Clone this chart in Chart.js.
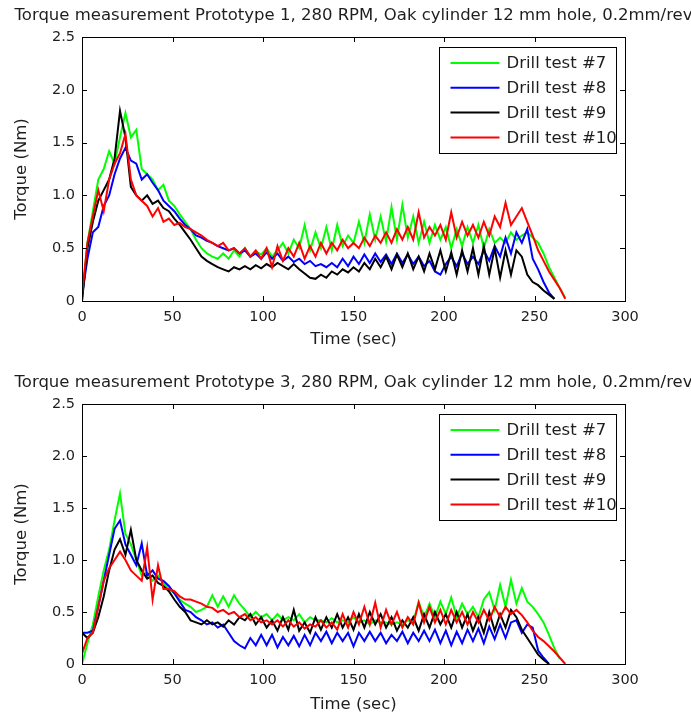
<!DOCTYPE html>
<html><head><meta charset="utf-8">
<script src="https://cdn.jsdelivr.net/npm/chart.js@4/dist/chart.umd.min.js"></script>
<style>
html,body{margin:0;padding:0;background:#fff;overflow:hidden;width:691px;height:715px;}
canvas{position:absolute;left:0;}
#c1{top:0}
#c2{top:367px}
</style></head><body>
<canvas id="c1" width="707" height="360"></canvas>
<canvas id="c2" width="707" height="348"></canvas>
<script>
// time axis (sec)
const time = [0,3,6,9,12,15,18,21,24,27,30,33,36,39,42,45,48,51,54,57,60,63,66,69,72,75,78,81,84,87,
90,93,96,99,102,105,108,111,114,117,120,123,126,129,132,135,138,141,144,147,150,153,156,159,162,165,168,171,174,177,
180,183,186,189,192,195,198,201,204,207,210,213,216,219,222,225,228,231,234,237,240,243,246,249,252,255,258,261,264,267,270];

const seriesNames = ['Drill test #7','Drill test #8','Drill test #9','Drill test #10'];
const seriesColors = ['#00ff00','#0000ff','#000000','#ff0000'];
const chartTitles = ['Torque measurement Prototype 1, 280 RPM, Oak cylinder 12 mm hole, 0.2mm/rev',
                     'Torque measurement Prototype 3, 280 RPM, Oak cylinder 12 mm hole, 0.2mm/rev'];
const xLabel = 'Time (sec)';
const yLabel = 'Torque (Nm)';

// Prototype 1
const p1Test7 = [
0.00,0.55,0.85,1.15,1.25,1.42,1.30,1.55,1.78,1.55,
1.62,1.25,1.20,1.15,1.05,1.10,0.95,0.90,0.82,0.75,
0.68,0.58,0.50,0.45,0.42,0.40,0.45,0.40,0.48,0.42,
0.50,0.42,0.47,0.44,0.50,0.42,0.48,0.55,0.45,0.58,
0.50,0.72,0.48,0.65,0.50,0.70,0.48,0.72,0.52,0.62,
0.55,0.75,0.55,0.82,0.58,0.80,0.56,0.89,0.58,0.91,
0.60,0.80,0.55,0.75,0.55,0.72,0.58,0.70,0.50,0.68,
0.52,0.70,0.55,0.72,0.50,0.68,0.55,0.60,0.55,0.65,
0.58,0.62,0.65,0.60,0.55,0.45,0.32,0.22,0.12,0.03,
null];
const p1Test8 = [
0.05,0.40,0.65,0.70,0.90,1.00,1.20,1.35,1.45,1.33,
1.30,1.15,1.20,1.12,1.05,0.95,0.90,0.85,0.78,0.72,
0.68,0.62,0.60,0.57,0.55,0.52,0.50,0.48,0.50,0.45,
0.48,0.42,0.45,0.40,0.46,0.40,0.45,0.38,0.42,0.37,
0.40,0.35,0.38,0.33,0.35,0.32,0.36,0.32,0.40,0.33,
0.42,0.35,0.44,0.36,0.45,0.37,0.44,0.35,0.45,0.36,
0.44,0.35,0.42,0.33,0.38,0.28,0.25,0.35,0.42,0.33,
0.45,0.35,0.42,0.35,0.48,0.38,0.52,0.42,0.60,0.45,
0.65,0.55,0.68,0.40,0.30,0.18,0.08,0.02,null,null,
null];
const p1Test9 = [
0.00,0.50,0.75,0.95,1.05,1.15,1.35,1.80,1.55,1.08,
1.00,0.95,1.00,0.92,0.95,0.88,0.85,0.78,0.72,0.65,
0.58,0.50,0.42,0.38,0.35,0.32,0.30,0.28,0.32,0.30,
0.33,0.30,0.34,0.31,0.35,0.32,0.36,0.33,0.30,0.35,
0.30,0.26,0.22,0.21,0.25,0.22,0.28,0.25,0.30,0.27,
0.32,0.28,0.36,0.30,0.40,0.32,0.42,0.30,0.44,0.32,
0.45,0.30,0.42,0.28,0.45,0.30,0.48,0.28,0.46,0.25,
0.48,0.28,0.50,0.25,0.52,0.25,0.50,0.22,0.48,0.25,
0.48,0.42,0.25,0.18,0.15,0.10,0.06,0.02,null,null,
null];
const p1Test10 = [
0.05,0.55,0.80,1.05,0.85,1.15,1.30,1.40,1.58,1.15,
1.00,0.95,0.90,0.80,0.88,0.75,0.78,0.72,0.74,0.70,
0.68,0.65,0.62,0.58,0.55,0.52,0.55,0.48,0.50,0.45,
0.50,0.42,0.48,0.40,0.50,0.32,0.52,0.38,0.50,0.42,
0.55,0.40,0.52,0.42,0.55,0.45,0.55,0.48,0.58,0.50,
0.55,0.50,0.60,0.52,0.62,0.55,0.65,0.55,0.68,0.58,
0.70,0.58,0.84,0.60,0.70,0.62,0.72,0.58,0.84,0.60,
0.75,0.62,0.72,0.60,0.75,0.62,0.80,0.70,0.93,0.72,
0.80,0.88,0.75,0.62,0.48,0.38,0.28,0.20,0.12,0.02,
null];

// Prototype 3
const p3Test7 = [
0.00,0.20,0.38,0.65,0.90,1.10,1.38,1.64,1.25,1.15,
1.00,0.85,0.88,0.80,0.85,0.78,0.72,0.68,0.62,0.58,
0.55,0.50,0.52,0.55,0.66,0.55,0.65,0.55,0.66,0.58,
0.52,0.45,0.50,0.45,0.48,0.42,0.48,0.42,0.45,0.42,
0.48,0.40,0.45,0.42,0.42,0.40,0.44,0.40,0.42,0.40,
0.45,0.40,0.42,0.38,0.42,0.40,0.40,0.38,0.40,0.38,
0.42,0.40,0.60,0.45,0.58,0.45,0.60,0.48,0.64,0.45,
0.58,0.48,0.55,0.45,0.62,0.69,0.52,0.76,0.55,0.81,
0.58,0.73,0.60,0.55,0.48,0.40,0.28,0.15,0.05,null,
null];
const p3Test8 = [
0.30,0.30,0.32,0.55,0.80,1.05,1.30,1.38,1.15,1.05,
0.95,1.16,0.85,0.90,0.82,0.80,0.75,0.68,0.60,0.52,
0.50,0.45,0.42,0.38,0.40,0.35,0.38,0.30,0.22,0.18,
0.15,0.25,0.18,0.28,0.18,0.28,0.16,0.26,0.18,0.27,
0.17,0.28,0.18,0.30,0.22,0.31,0.20,0.30,0.22,0.30,
0.17,0.30,0.22,0.31,0.22,0.30,0.20,0.28,0.22,0.31,
0.20,0.30,0.22,0.32,0.22,0.33,0.20,0.32,0.18,0.31,
0.20,0.33,0.22,0.34,0.20,0.36,0.24,0.38,0.25,0.40,
0.42,0.30,0.38,0.35,0.13,0.06,0.00,null,null,null,
null];
const p3Test9 = [
0.30,0.25,0.30,0.45,0.65,0.90,1.10,1.20,1.05,1.29,
1.00,0.90,0.82,0.85,0.78,0.75,0.70,0.62,0.55,0.50,
0.42,0.40,0.38,0.42,0.38,0.40,0.36,0.42,0.38,0.45,
0.42,0.48,0.38,0.45,0.35,0.42,0.32,0.45,0.33,0.52,
0.32,0.40,0.30,0.45,0.33,0.45,0.35,0.48,0.35,0.45,
0.33,0.48,0.35,0.50,0.38,0.48,0.35,0.45,0.32,0.42,
0.35,0.45,0.32,0.48,0.35,0.50,0.38,0.48,0.35,0.50,
0.35,0.48,0.32,0.45,0.30,0.50,0.32,0.48,0.35,0.52,
0.45,0.33,0.25,0.17,0.09,0.04,0.00,null,null,null,
null];
const p3Test10 = [
0.10,0.25,0.30,0.55,0.80,0.92,1.00,1.08,1.00,0.90,
0.85,0.80,1.12,0.62,0.95,0.72,0.72,0.70,0.65,0.62,
0.62,0.60,0.58,0.55,0.54,0.50,0.52,0.48,0.50,0.45,
0.48,0.42,0.45,0.40,0.42,0.38,0.42,0.36,0.42,0.36,
0.40,0.34,0.38,0.36,0.42,0.35,0.40,0.33,0.48,0.35,
0.50,0.38,0.55,0.38,0.59,0.35,0.52,0.38,0.50,0.35,
0.45,0.38,0.59,0.40,0.55,0.40,0.52,0.38,0.52,0.40,
0.50,0.38,0.50,0.40,0.52,0.42,0.55,0.45,0.55,0.48,
0.52,0.47,0.40,0.32,0.26,0.22,0.17,0.12,0.06,0.00,
null];

const xTickStep = 50, xMax = 300, yTickStep = 0.5, yMax = 2.5;

const FONT = 'DejaVu Sans';
const TXT = '#1e1e1e';

const framePlugin = {
  id: 'frameLegend',
  afterDatasetsDraw(chart) {
    const {ctx, chartArea: a, scales} = chart;
    ctx.save();
    ctx.strokeStyle = '#000';
    ctx.lineWidth = 1;
    ctx.strokeRect(Math.round(a.left) + 0.5, Math.round(a.top) + 0.5, Math.round(a.right - a.left), Math.round(a.bottom - a.top));
    const tl = 5;
    ctx.beginPath();
    scales.x.ticks.forEach(t => {
      const px = Math.round(scales.x.getPixelForValue(t.value)) + 0.5;
      ctx.moveTo(px, a.bottom); ctx.lineTo(px, a.bottom - tl);
      ctx.moveTo(px, a.top); ctx.lineTo(px, a.top + tl);
    });
    scales.y.ticks.forEach(t => {
      const py = Math.round(scales.y.getPixelForValue(t.value)) + 0.5;
      ctx.moveTo(a.left, py); ctx.lineTo(a.left + tl, py);
      ctx.moveTo(a.right, py); ctx.lineTo(a.right - tl, py);
    });
    ctx.stroke();

    // legend box
    const bw = 177, bh = 106;
    const bx = Math.round(a.right - 9 - bw) + 0.5, by = Math.round(a.top + 10) + 0.5;
    ctx.fillStyle = '#fff';
    ctx.fillRect(bx, by, bw, bh);
    ctx.strokeRect(bx, by, bw, bh);
    ctx.font = '16.5px "' + FONT + '"';
    ctx.textBaseline = 'middle';
    ctx.textAlign = 'left';
    chart.data.datasets.forEach((ds, i) => {
      const yy = by + 15.5 + i * 24.8;
      ctx.strokeStyle = ds.borderColor;
      ctx.lineWidth = 2;
      ctx.beginPath();
      ctx.moveTo(bx + 11, yy); ctx.lineTo(bx + 60, yy);
      ctx.stroke();
      ctx.fillStyle = TXT;
      ctx.fillText(ds.label, bx + 67, yy + 1);
    });
    ctx.restore();
  }
};

function makeChart(id, title, series, canvasH, plotBottom, xTitlePad) {
  const datasets = series.map((vals, i) => ({
    label: seriesNames[i],
    data: time.map((t, k) => ({x: t, y: vals[k]})),
    borderColor: seriesColors[i],
    backgroundColor: seriesColors[i],
    borderWidth: 2,
    pointRadius: 0,
    tension: 0,
    spanGaps: false,
    order: series.length - 1 - i
  }));
  const tickFont = {family: FONT, size: 14.5};
  const labFont = {family: FONT, size: 16.5};
  return new Chart(document.getElementById(id), {
    type: 'line',
    data: {datasets},
    options: {
      responsive: false, animation: false, devicePixelRatio: 1,
      layout: {padding: {left: 0, right: 0, top: 0, bottom: 0}},
      plugins: {
        legend: {display: false},
        tooltip: {enabled: false},
        title: {display: true, text: title, color: TXT,
          font: {family: FONT, size: 16.5, weight: 'normal'},
          padding: {top: 6, bottom: 11.2}}
      },
      scales: {
        x: {
          type: 'linear', min: 0, max: xMax,
          ticks: {stepSize: xTickStep, padding: 8, color: TXT, font: tickFont, maxRotation: 0, autoSkip: false},
          grid: {display: false, drawTicks: false},
          border: {display: false},
          title: {display: true, text: xLabel, color: TXT, font: labFont, padding: {top: 0, bottom: xTitlePad}},
          afterFit: s => { s.height = canvasH - plotBottom; }
        },
        y: {
          type: 'linear', min: 0, max: yMax,
          ticks: {stepSize: yTickStep, padding: 7, color: TXT, font: tickFont},
          grid: {display: false, drawTicks: false},
          border: {display: false},
          title: {display: true, text: yLabel, color: TXT, font: labFont, padding: {top: 12, bottom: 0}},
          afterFit: s => { s.width = 82; }
        },
        yRight: {
          type: 'linear', position: 'right', min: 0, max: yMax,
          ticks: {display: false},
          grid: {display: false, drawTicks: false},
          border: {display: false},
          afterFit: s => { s.width = 82; }
        }
      }
    },
    plugins: [framePlugin]
  });
}

makeChart('c1', chartTitles[0], [p1Test7, p1Test8, p1Test9, p1Test10], 360, 301, 10);
makeChart('c2', chartTitles[1], [p3Test7, p3Test8, p3Test9, p3Test10], 348, 297, 0);
</script>
</body></html>
